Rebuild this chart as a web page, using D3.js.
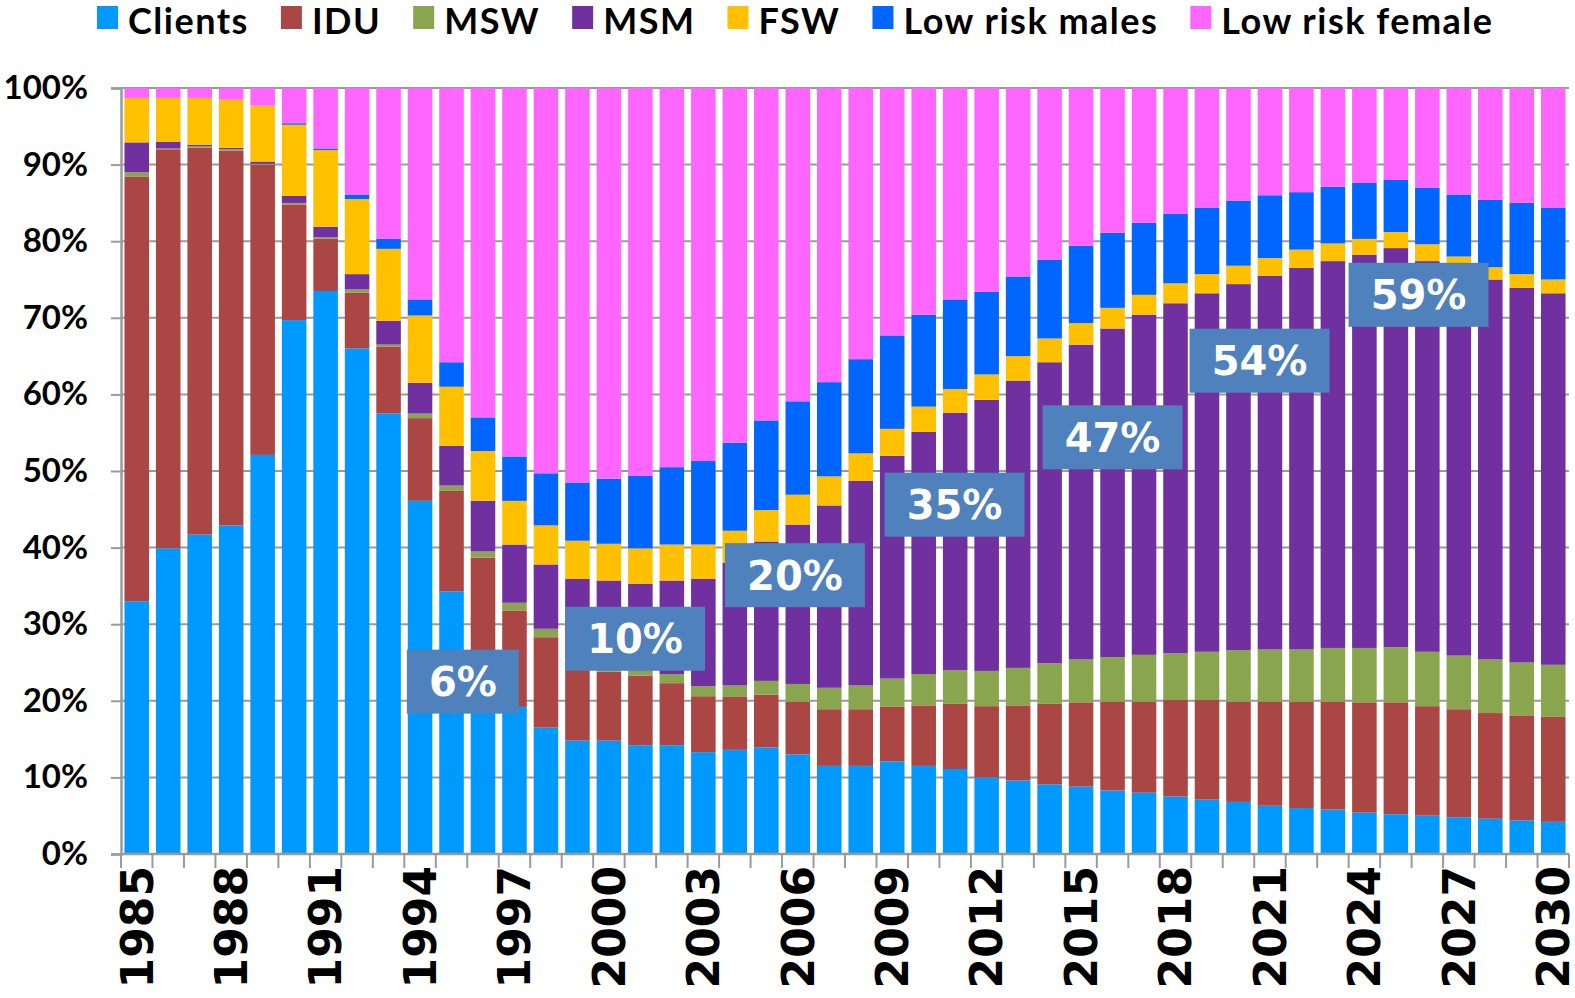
<!DOCTYPE html>
<html>
<head>
<meta charset="utf-8">
<script src="https://cdn.jsdelivr.net/npm/d3@7"></script>
<style>
  body { margin: 0; background: #fff; }
  svg { display: block; }
</style>
</head>
<body>
<div id="chart"></div>
<script>
// categories
var years = [1985, 1986, 1987, 1988, 1989, 1990, 1991, 1992, 1993, 1994,
  1995, 1996, 1997, 1998, 1999, 2000, 2001, 2002, 2003, 2004,
  2005, 2006, 2007, 2008, 2009, 2010, 2011, 2012, 2013, 2014,
  2015, 2016, 2017, 2018, 2019, 2020, 2021, 2022, 2023, 2024,
  2025, 2026, 2027, 2028, 2029, 2030];
var yearTicks = [1985, 1988, 1991, 1994, 1997, 2000, 2003, 2006, 2009, 2012,
  2015, 2018, 2021, 2024, 2027, 2030];
var pctTicks = [0, 10, 20, 30, 40, 50, 60, 70, 80, 90, 100];

// series values (% of new infections)
var clients = [33.0, 39.9, 41.7, 42.9, 52.1, 69.7, 73.5, 66.0, 57.5, 46.1,
  34.3, 24.0, 19.2, 16.5, 14.8, 14.8, 14.2, 14.2, 13.3, 13.6,
  13.9, 13.0, 11.5, 11.5, 12.1, 11.5, 11.1, 10.0, 9.6, 9.1,
  8.8, 8.3, 8.0, 7.5, 7.1, 6.8, 6.3, 6.0, 5.8, 5.4,
  5.2, 5.0, 4.8, 4.6, 4.4, 4.2];
var idu = [55.4, 52.1, 50.5, 48.9, 37.9, 15.1, 6.8, 7.3, 8.7, 10.8,
  13.1, 14.7, 12.6, 11.8, 9.4, 9.0, 9.1, 8.1, 7.3, 6.9,
  6.9, 6.9, 7.4, 7.4, 7.1, 7.9, 8.5, 9.3, 9.8, 10.5,
  11.0, 11.6, 11.9, 12.6, 13.0, 13.1, 13.6, 13.9, 14.1, 14.4,
  14.6, 14.3, 14.1, 13.8, 13.7, 13.7];
var msw = [0.6, 0.1, 0.2, 0.2, 0.1, 0.2, 0.2, 0.4, 0.3, 0.6,
  0.7, 0.8, 1.0, 1.1, 0.7, 0.6, 0.7, 1.2, 1.3, 1.5,
  1.8, 2.3, 2.8, 3.1, 3.7, 4.1, 4.4, 4.6, 4.9, 5.3,
  5.6, 5.8, 6.1, 6.1, 6.3, 6.7, 6.8, 6.8, 7.0, 7.1,
  7.2, 7.1, 7.0, 7.0, 6.9, 6.8];
var msm = [3.9, 0.9, 0.2, 0.2, 0.3, 0.9, 1.4, 2.0, 3.1, 4.0,
  5.2, 6.6, 7.6, 8.4, 11.0, 11.3, 11.3, 12.2, 14.0, 16.0,
  18.2, 20.8, 23.8, 26.7, 29.1, 31.6, 33.6, 35.4, 37.5, 39.3,
  41.1, 42.9, 44.4, 45.7, 46.8, 47.8, 48.8, 49.8, 50.5, 51.3,
  52.1, 51.0, 50.1, 49.6, 48.9, 48.5];
var fsw = [5.8, 5.7, 6.1, 6.3, 7.3, 9.3, 10.0, 9.8, 9.4, 8.8,
  7.7, 6.5, 5.7, 5.1, 5.0, 4.8, 4.6, 4.7, 4.5, 4.2,
  4.1, 3.9, 3.8, 3.6, 3.5, 3.3, 3.1, 3.3, 3.2, 3.1,
  2.8, 2.7, 2.6, 2.6, 2.5, 2.4, 2.3, 2.4, 2.3, 2.1,
  2.1, 2.2, 2.0, 1.6, 1.8, 1.8];
var lowMales = [0, 0, 0, 0, 0, 0.2, 0.2, 0.6, 1.3, 2.1,
  3.2, 4.4, 5.8, 6.8, 7.6, 8.5, 9.5, 10.1, 10.9, 11.5,
  11.7, 12.2, 12.3, 12.3, 12.2, 12.0, 11.7, 10.8, 10.4, 10.3,
  10.1, 9.8, 9.4, 9.1, 8.7, 8.5, 8.2, 7.5, 7.4, 7.3,
  6.8, 7.4, 8.1, 8.8, 9.3, 9.4];
var lowFemales = [1.3, 1.3, 1.3, 1.5, 2.3, 4.6, 7.9, 13.9, 19.7, 27.6,
  35.8, 43.0, 48.1, 50.3, 51.5, 51.0, 50.6, 49.5, 48.7, 46.3,
  43.4, 40.9, 38.4, 35.4, 32.3, 29.6, 27.6, 26.6, 24.6, 22.4,
  20.6, 18.9, 17.6, 16.4, 15.6, 14.7, 14.0, 13.6, 12.9, 12.4,
  12.0, 13.0, 13.9, 14.6, 15.0, 15.6];

var seriesNames = ["Clients", "IDU", "MSW", "MSM", "FSW", "Low risk males", "Low risk female"];
var seriesColors = ["#0099FF", "#AA4643", "#89A54E", "#7030A0", "#FFC000", "#0066FF", "#FF66FF"];

// callout boxes: text, year position, % position
var calloutText = ["6%", "10%", "20%", "35%", "47%", "54%", "59%"];
var calloutYear = [1995.36, 2000.83, 2005.91, 2010.98, 2016.0, 2020.67, 2025.72];
var calloutPct = [22.5, 28.1, 36.4, 45.6, 54.4, 64.4, 73.0];

// build table for the stack
var keys = ["clients", "idu", "msw", "msm", "fsw", "lowMales", "lowFemales"];
var cols = [clients, idu, msw, msm, fsw, lowMales, lowFemales];
var table = years.map(function(yr, i) {
  var row = {year: yr};
  keys.forEach(function(k, j) { row[k] = cols[j][i]; });
  return row;
});

var W = 1575, H = 998;
var plot = {left: 121, right: 1569, top: 88, bottom: 854};

var svg = d3.select("#chart")
  .append("svg")
    .attr("width", W)
    .attr("height", H);

var x = d3.scaleBand()
  .domain(years)
  .range([plot.left, plot.right])
  .paddingInner(0.22)
  .paddingOuter(0.11);

var y = d3.scaleLinear()
  .domain([0, 100])
  .range([plot.bottom, plot.top]);

// gridlines
svg.append("g")
  .selectAll("line")
  .data(pctTicks)
  .enter()
  .append("line")
    .attr("x1", plot.left)
    .attr("x2", plot.right)
    .attr("y1", d => y(d))
    .attr("y2", d => y(d))
    .style("stroke", "#9a9a9a")
    .style("stroke-width", 2);

// stacked bars
var stacked = d3.stack().keys(keys)(table);

svg.append("g")
  .selectAll("g")
  .data(stacked)
  .enter()
  .append("g")
    .style("fill", (d, i) => seriesColors[i])
  .selectAll("rect")
  .data(d => d)
  .enter()
  .append("rect")
    .attr("x", d => x(d.data.year))
    .attr("width", x.bandwidth())
    .attr("y", d => y(d[1]))
    .attr("height", d => Math.max(0, y(d[0]) - y(d[1])));

// Y axis
var yAxis = svg.append("g")
  .attr("transform", "translate(" + plot.left + ",0)")
  .call(d3.axisLeft(y).tickValues(pctTicks).tickSize(10).tickFormat(d => d + "%"));
yAxis.select(".domain").style("stroke", "#9a9a9a").style("stroke-width", 2.5);
yAxis.selectAll(".tick line").style("stroke", "#9a9a9a").style("stroke-width", 2);
yAxis.selectAll("text")
  .attr("x", -33)
  .style("font-family", "Lato, 'Liberation Sans', sans-serif")
  .style("font-weight", "bold")
  .style("font-size", "33px")
  .style("fill", "#000");

// X axis line and category ticks
var step = x.step();
svg.append("line")
  .attr("x1", plot.left)
  .attr("x2", plot.right)
  .attr("y1", plot.bottom)
  .attr("y2", plot.bottom)
  .style("stroke", "#9a9a9a")
  .style("stroke-width", 2.5);

svg.append("g")
  .selectAll("line")
  .data(years.concat([2031]))
  .enter()
  .append("line")
    .attr("x1", (d, i) => plot.left + i * step)
    .attr("x2", (d, i) => plot.left + i * step)
    .attr("y1", plot.bottom)
    .attr("y2", plot.bottom + 14)
    .style("stroke", "#9a9a9a")
    .style("stroke-width", 2);

// X tick labels, rotated
svg.append("g")
  .selectAll("text")
  .data(yearTicks)
  .enter()
  .append("text")
    .attr("transform", d => "translate(" + (x(d) + x.bandwidth() / 2) + "," + (plot.bottom + 12) + ") rotate(-90)")
    .attr("text-anchor", "end")
    .attr("dy", "0.36em")
    .style("font-family", "'DejaVu Sans', Verdana, sans-serif")
    .style("font-weight", "bold")
    .style("font-size", "44px")
    .text(d => d);

// callout boxes
var xYear = d3.scaleLinear()
  .domain([years[0], years[years.length - 1]])
  .range([x(years[0]) + x.bandwidth() / 2, x(years[years.length - 1]) + x.bandwidth() / 2]);

var callouts = svg.append("g")
  .selectAll("g")
  .data(calloutText)
  .enter()
  .append("g")
    .attr("transform", (d, i) => "translate(" + xYear(calloutYear[i]) + "," + y(calloutPct[i]) + ")");

callouts.append("rect")
  .attr("x", d => d.length < 3 ? -56 : -70)
  .attr("width", d => d.length < 3 ? 112 : 140)
  .attr("y", -32)
  .attr("height", 64)
  .style("fill", "#4F81BD");

callouts.append("text")
  .attr("text-anchor", "middle")
  .attr("dy", "0.36em")
  .style("font-family", "'DejaVu Sans', Verdana, sans-serif")
  .style("font-weight", "bold")
  .style("font-size", "40px")
  .style("fill", "#fff")
  .text(d => d);

// legend
var legend = svg.append("g");
var lx = 97;
seriesNames.forEach(function(name, i) {
  legend.append("rect")
    .attr("x", lx)
    .attr("y", 6)
    .attr("width", 21)
    .attr("height", 23)
    .style("fill", seriesColors[i]);
  var t = legend.append("text")
    .attr("x", lx + 31)
    .attr("y", 34)
    .style("font-family", "Lato, 'Liberation Sans', sans-serif")
    .style("font-weight", "bold")
    .style("font-size", "36px")
    .style("letter-spacing", "1.5px")
    .text(name);
  lx += 31 + t.node().getComputedTextLength() + 32;
});
</script>
</body>
</html>
